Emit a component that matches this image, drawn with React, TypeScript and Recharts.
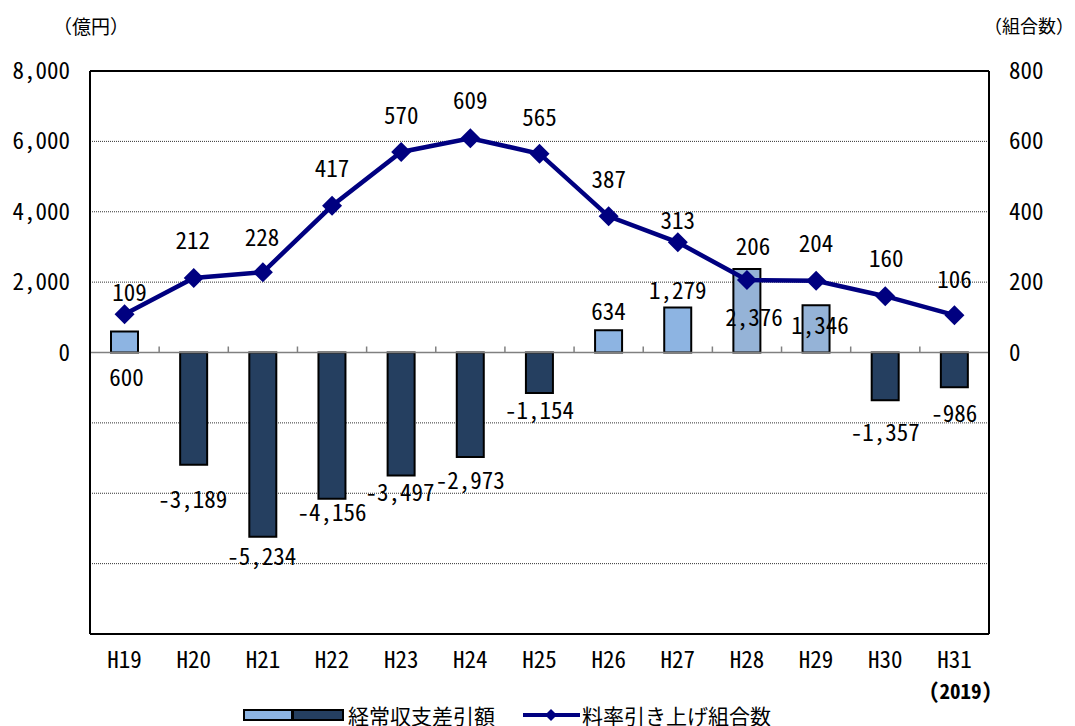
import React from 'react';
import {
  ComposedChart,
  Bar,
  Line,
  XAxis,
  YAxis,
  CartesianGrid,
  ReferenceLine,
  Cell,
  LabelList,
  Legend,
} from 'recharts';

// 年度（平成）
const categories = ['H19', 'H20', 'H21', 'H22', 'H23', 'H24', 'H25', 'H26', 'H27', 'H28', 'H29', 'H30', 'H31'];
// 経常収支差引額（億円）
const balance = [600, -3189, -5234, -4156, -3497, -2973, -1154, 634, 1279, 2376, 1346, -1357, -986];
// 料率引き上げ組合数
const raises = [109, 212, 228, 417, 570, 609, 565, 387, 313, 206, 204, 160, 106];

const leftTicks = [-8000, -6000, -4000, -2000, 0, 2000, 4000, 6000, 8000];
const rightTicks = [-800, -600, -400, -200, 0, 200, 400, 600, 800];

const data = categories.map((year, i) => ({ year, balance: balance[i], raises: raises[i] }));

const W = 1075;
const H = 726;

const MONO = '"Noto Sans Mono CJK JP", "Noto Sans CJK JP", sans-serif';
const CJK = '"Noto Sans CJK JP", sans-serif';
const FS = 23;

const LIGHT = '#8DB4E2';
const LIGHT_ALT = '#95B3D7';
const DARK = '#253F60';
const NAVY = '#000080';
const altShade = new Set(['H28', 'H29']);

// label placement tweaks [dx, dy] relative to the bar end / line point
const barLabelShift: Record<string, [number, number]> = {
  H19: [2, 47], H20: [-1, 35], H21: [-1, 20], H22: [0, 14], H23: [-1, 17], H24: [0, 24], H25: [0, 18],
  H26: [0, -18], H27: [0, -16], H28: [7, 49], H29: [4, 21], H30: [0, 33], H31: [0, 27],
};
const lineLabelShift: Record<string, [number, number]> = {
  H19: [5, -21], H20: [-1, -37], H21: [-1, -34], H22: [0, -37], H23: [0, -36], H24: [0, -37], H25: [0, -36],
  H26: [0, -36], H27: [0, -21], H28: [6, -33], H29: [0, -37], H30: [1, -37], H31: [0, -35],
};

const fmt = (v: number) => v.toLocaleString('en-US');

const LeftTick = (props: any) => {
  const { x, y, payload } = props;
  if (payload.value < 0) return <g />;
  return (
    <text x={x} y={y + 8} textAnchor="end" fontFamily={MONO} fontSize={FS} fill="#000">
      {fmt(payload.value)}
    </text>
  );
};

const RightTick = (props: any) => {
  const { x, y, payload } = props;
  if (payload.value < 0) return <g />;
  return (
    <text x={x} y={y + 8} textAnchor="start" fontFamily={MONO} fontSize={FS} fill="#000">
      {fmt(payload.value)}
    </text>
  );
};

const YearTick = (props: any) => {
  const { x, y, payload } = props;
  const last = payload.value === categories[categories.length - 1];
  return (
    <g>
      <text x={x} y={y + 8} textAnchor="middle" fontFamily={MONO} fontSize={FS} fill="#000">
        {payload.value}
      </text>
      {last && (
        <text x={x + 6} y={y + 39} textAnchor="middle" fontFamily={MONO} fontSize={21} fontWeight="bold" fill="#000">
          (2019)
        </text>
      )}
    </g>
  );
};

const LeftUnit = (props: any) => {
  const vb = props.viewBox || {};
  return (
    <text x={vb.x + vb.width + 1} y={25} textAnchor="middle" dominantBaseline="central" fontFamily={CJK} fontSize={19} fill="#000">
      （億円）
    </text>
  );
};

const RightUnit = (props: any) => {
  const vb = props.viewBox || {};
  return (
    <text x={vb.x + vb.width / 2 - 3} y={25} textAnchor="middle" dominantBaseline="central" fontFamily={CJK} fontSize={18} fill="#000">
      （組合数）
    </text>
  );
};

// zero line with short category-boundary ticks
const ZeroLine = (props: any) => {
  const { x1, y1, x2, y2 } = props;
  const n = categories.length;
  const step = (x2 - x1) / n;
  return (
    <g>
      <line x1={x1} y1={y1} x2={x2} y2={y2} stroke="#808080" strokeWidth={1.5} />
      {categories.slice(1).map((c, i) => (
        <line key={c} x1={x1 + step * (i + 1)} x2={x1 + step * (i + 1)} y1={y1} y2={y1 - 6} stroke="#808080" strokeWidth={1.5} />
      ))}
    </g>
  );
};

const BarValueLabel = (props: any) => {
  const { x, y, width, height, value, index } = props;
  const cat = categories[index];
  const [dx, dy] = barLabelShift[cat] || [0, 0];
  const top = Math.min(y, y + height);
  const bottom = Math.max(y, y + height);
  const end = value >= 0 ? top : bottom;
  return (
    <text x={x + width / 2 + dx} y={end + dy + 8} textAnchor="middle" fontFamily={MONO} fontSize={FS} fill="#000">
      {fmt(value)}
    </text>
  );
};

const LineValueLabel = (props: any) => {
  const { x, y, value, index } = props;
  const cat = categories[index];
  const [dx, dy] = lineLabelShift[cat] || [0, -36];
  return (
    <text x={x + dx} y={y + dy + 8} textAnchor="middle" fontFamily={MONO} fontSize={FS} fill="#000">
      {fmt(value)}
    </text>
  );
};

const Diamond = (props: any) => {
  const { cx, cy, index } = props;
  const r = 10;
  return (
    <path
      key={`d-${index}`}
      d={`M${cx},${cy - r} L${cx + r},${cy} L${cx},${cy + r} L${cx - r},${cy} Z`}
      fill={NAVY}
      stroke="none"
    />
  );
};

const LegendContent = () => (
  <svg width={W} height={26} style={{ display: 'block', overflow: 'visible' }}>
    <rect x={244} y={10} width={48} height={10} fill={LIGHT} stroke="#000" strokeWidth={2} />
    <rect x={293} y={10} width={50} height={10} fill={DARK} stroke="#000" strokeWidth={2} />
    <text x={348} y={15} dominantBaseline="central" fontFamily={CJK} fontSize={21} fill="#000">
      経常収支差引額
    </text>
    <line x1={523} y1={15} x2={580} y2={15} stroke={NAVY} strokeWidth={4} />
    <path d="M551,9 L557,15 L551,21 L545,15 Z" fill={NAVY} />
    <text x={582} y={15} dominantBaseline="central" fontFamily={CJK} fontSize={21} fill="#000">
      料率引き上げ組合数
    </text>
  </svg>
);

export default function App() {
  return (
    <div style={{ position: 'absolute', left: 0, top: 0, width: W, height: H, background: '#fff' }}>
      <ComposedChart
        width={W}
        height={H}
        data={data}
        margin={{ top: 71, right: 0, bottom: 26, left: 0 }}
        barSize={27}
      >
        <CartesianGrid
          yAxisId="left"
          vertical={false}
          stroke="#333"
          strokeDasharray="1 1"
          strokeWidth={1}
        />
        <XAxis
          dataKey="year"
          height={40}
          axisLine={{ stroke: '#000', strokeWidth: 2 }}
          tickLine={false}
          tickSize={0}
          tickMargin={26}
          tick={<YearTick />}
          interval={0}
        />
        <YAxis
          yAxisId="left"
          orientation="left"
          width={90}
          domain={[-8000, 8000]}
          ticks={leftTicks}
          interval={0}
          axisLine={{ stroke: '#000', strokeWidth: 2 }}
          tickLine={false}
          tickSize={0}
          tickMargin={20}
          tick={<LeftTick />}
          label={<LeftUnit />}
        />
        <YAxis
          yAxisId="right"
          orientation="right"
          width={86}
          domain={[-800, 800]}
          ticks={rightTicks}
          interval={0}
          axisLine={{ stroke: '#000', strokeWidth: 2 }}
          tickLine={false}
          tickSize={0}
          tickMargin={20}
          tick={<RightTick />}
          label={<RightUnit />}
        />
        <ReferenceLine yAxisId="left" y={8000} stroke="#000" strokeWidth={2} />
        <ReferenceLine yAxisId="left" y={0} shape={<ZeroLine />} />
        <Bar yAxisId="left" dataKey="balance" stroke="#000" strokeWidth={2} isAnimationActive={false}>
          {data.map((d) => (
            <Cell
              key={d.year}
              fill={d.balance >= 0 ? (altShade.has(d.year) ? LIGHT_ALT : LIGHT) : DARK}
            />
          ))}
          <LabelList dataKey="balance" content={<BarValueLabel />} />
        </Bar>
        <Line
          yAxisId="right"
          dataKey="raises"
          stroke={NAVY}
          strokeWidth={4.5}
          dot={<Diamond />}
          activeDot={false}
          isAnimationActive={false}
        >
          <LabelList dataKey="raises" content={<LineValueLabel />} />
        </Line>
        <Legend
          verticalAlign="bottom"
          content={<LegendContent />}
          wrapperStyle={{ left: 0, top: 700, width: W, height: 26 }}
        />
      </ComposedChart>
    </div>
  );
}
